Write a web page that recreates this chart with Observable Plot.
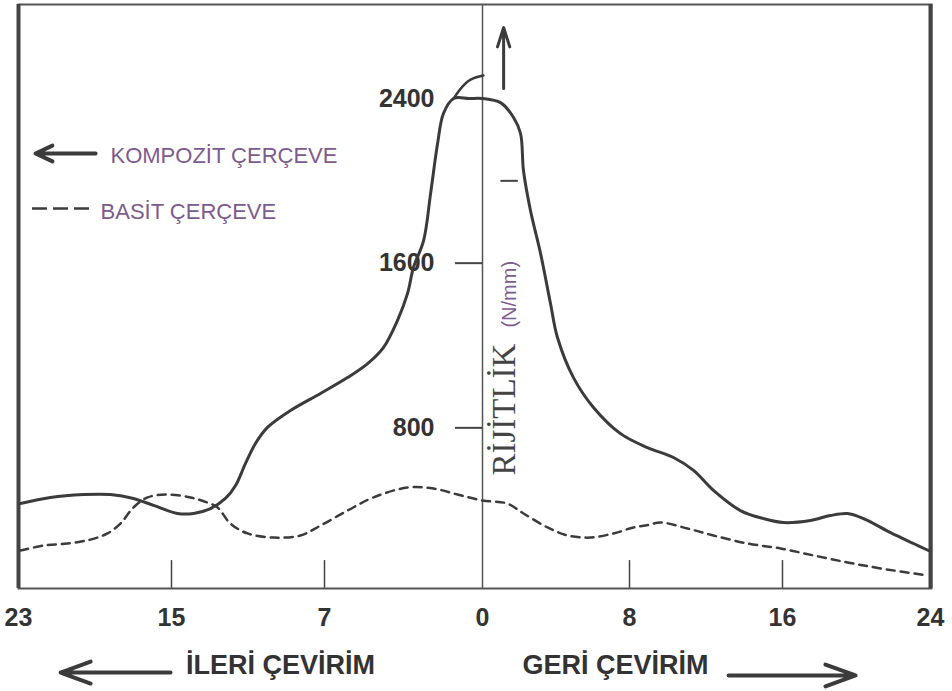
<!DOCTYPE html>
<html>
<head>
<meta charset="utf-8">
<script src="https://cdn.jsdelivr.net/npm/d3@7"></script>
<script src="https://cdn.jsdelivr.net/npm/@observablehq/plot@0.6"></script>
<style>
  html, body { margin: 0; padding: 0; background: #fff; overflow: hidden; }
  #chart { width: 952px; height: 691px; }
</style>
</head>
<body>
<div id="chart"></div>
<script>
// ---- data ----
const xTicks = [-23, -15, -7, 0, 8, 16, 24];
const xTickLabels = ["23", "15", "7", "0", "8", "16", "24"];
const xTickMarks = [-15, -7, 8, 16];
const yTicks = [2400, 1600, 800];
const yTickMarksLeft = [1600, 800];
const yTickMarksRight = [2000];

const kompozitX = [-22.9, -21.33, -19.6, -18.19, -16.99, -15.94, -14.69, -13.85, -12.96, -12.18, -11.65, -11.13, -10.61, -9.98, -8.78, -7.21, -5.98, -5.09, -4.39, -3.77, -3.32, -3.06, -2.61, -2.30, -1.99, -1.73, -1.28, -0.6, 0, 0.98, 1.69, 2.07, 2.23, 2.61, 3.16, 3.70, 4.08, 4.95, 6.04, 7.51, 8.94, 10.30, 11.35, 12.39, 13.80, 15.01, 16.05, 17.51, 18.59, 19.51, 20.38, 21.84, 23.08, 23.89];
const kompozitY = [432, 462, 476, 476, 457, 423, 384, 384, 408, 457, 520, 627, 724, 802, 884, 967, 1044, 1112, 1190, 1321, 1453, 1579, 1710, 1938, 2181, 2327, 2400, 2400, 2400, 2380, 2308, 2230, 2050, 1856, 1647, 1404, 1239, 1044, 899, 772, 704, 656, 593, 496, 398, 359, 340, 350, 374, 384, 359, 291, 238, 204];

const kompozitTepeX = [-1.28, -0.89, -0.53, 0.05];
const kompozitTepeY = [2400, 2458, 2492, 2512];

const basitX = [-22.9, -21.69, -20.44, -19.24, -18.35, -17.67, -16.99, -16.25, -15.21, -14.01, -13.12, -12.59, -11.92, -11.03, -9.67, -8.26, -7.21, -5.98, -4.83, -3.32, -2.17, -1.11, 0, 1.36, 2.23, 3.54, 4.63, 5.88, 7.13, 8.21, 8.84, 9.62, 11.03, 12.39, 14.17, 15.90, 17.68, 19.51, 21.30, 23.84];
const basitY = [204, 228, 238, 257, 287, 335, 413, 462, 476, 462, 437, 413, 335, 287, 267, 277, 325, 398, 462, 510, 505, 476, 447, 432, 384, 316, 277, 267, 287, 316, 325, 340, 311, 277, 238, 214, 180, 146, 117, 83];

const seriesNames = ["KOMPOZİT ÇERÇEVE", "BASİT ÇERÇEVE"];
const axisTitles = ["İLERİ ÇEVİRİM", "GERİ ÇEVİRİM"];
const yTitle = "RİJİTLİK";
const yUnit = "(N/mm)";

// ---- tables ----
const kompozit = kompozitX.map((x, i) => ({x, y: kompozitY[i]}));
const kompozitTepe = kompozitTepeX.map((x, i) => ({x, y: kompozitTepeY[i]}));
const basit = basitX.map((x, i) => ({x, y: basitY[i]}));

const ink = "#3b3b3b";
const purple = "#7d5a91";

// hand-drawn axis: unequal spacing between ticks on either side of 0
const warp = d3.scaleLinear().domain(xTicks).range([18, 171, 324, 482, 629, 782, 930]);

const chart = Plot.plot({
  width: 952,
  height: 691,
  marginTop: 4,
  marginRight: 21,
  marginBottom: 103,
  marginLeft: 18,
  style: {background: "#fff", fontFamily: "Liberation Sans, Arial, sans-serif", overflow: "visible"},
  x: {transform: warp, domain: [18, 930], range: [18, 930], axis: null},
  y: {domain: [0, 2400], range: [592, 98], axis: null},
  marks: [
    Plot.frame({stroke: "#555", strokeWidth: 2}),
    Plot.ruleX([xTicks[0], xTicks[xTicks.length - 1]], {stroke: "#444", strokeWidth: 4}),
    Plot.ruleX([0], {stroke: "#555", strokeWidth: 1.5}),
    Plot.ruleX(xTickMarks, {y1: 20, y2: 155, stroke: "#444", strokeWidth: 1.5}),
    Plot.ruleY(yTickMarksLeft, {x1: -1.2, x2: 0, stroke: "#444", strokeWidth: 2}),
    Plot.ruleY(yTickMarksRight, {x1: 1.0, x2: 1.95, stroke: "#444", strokeWidth: 2}),
    Plot.text(yTicks, {x: 0, y: d => d, dx: -48, text: d => String(d), textAnchor: "end",
      fontSize: 25, fontWeight: "bold", fill: "#333"}),
    Plot.text(xTicks, {x: d => d, frameAnchor: "bottom", dy: 37, text: (d, i) => xTickLabels[i],
      fontSize: 25, fontWeight: "bold", fill: "#333"}),
    Plot.line(basit, {x: "x", y: "y", curve: "catmull-rom", stroke: ink, strokeWidth: 2.5, strokeDasharray: "8,6"}),
    Plot.line(kompozit, {x: "x", y: "y", curve: "catmull-rom", stroke: ink, strokeWidth: 3}),
    Plot.line(kompozitTepe, {x: "x", y: "y", curve: "catmull-rom", stroke: ink, strokeWidth: 2.5}),
    // vertical arrow near the peak
    Plot.arrow([0], {x1: 1.15, x2: 1.15, y1: 2448, y2: 2745, stroke: ink, strokeWidth: 3, headLength: 16, headAngle: 35}),
    // legend
    Plot.arrow([0], {x1: -18.97, x2: -22.11, y1: 2133, y2: 2133, stroke: ink, strokeWidth: 4, headLength: 7, headAngle: 50}),
    Plot.ruleY([1865], {x1: -22.27, x2: -19.13, stroke: ink, strokeWidth: 2.5, strokeDasharray: "15,6"}),
    Plot.text([seriesNames[0]], {x: -18.19, y: 2123, text: d => d, textAnchor: "start", fontSize: 22, fill: purple}),
    Plot.text([seriesNames[1]], {x: -18.71, y: 1851, text: d => d, textAnchor: "start", fontSize: 22, fill: purple}),
    // y title
    Plot.text([yTitle], {x: 1.2, y: 568, text: d => d, rotate: -90, textAnchor: "start",
      fontFamily: "Liberation Serif, Times New Roman, serif", fontSize: 33, fill: "#444"}),
    Plot.text([yUnit], {x: 1.45, y: 1287, text: d => d, rotate: -90, textAnchor: "start",
      fontSize: 20, fill: purple}),
    // axis titles and direction arrows
    Plot.text([axisTitles[0]], {x: -9.3, frameAnchor: "bottom", dy: 85, text: d => d,
      fontSize: 27, fontWeight: "bold", fill: "#333"}),
    Plot.text([axisTitles[1]], {x: 7.24, frameAnchor: "bottom", dy: 85, text: d => d,
      fontSize: 27, fontWeight: "bold", fill: "#333"}),
    Plot.arrow([0], {x1: -15.05, x2: -20.8, y1: -389, y2: -389, stroke: ink, strokeWidth: 4, headLength: 12, headAngle: 40}),
    Plot.arrow([0], {x1: 13.18, x2: 19.95, y1: -403, y2: -403, stroke: ink, strokeWidth: 4, headLength: 12, headAngle: 40})
  ]
});
document.getElementById("chart").appendChild(chart);
</script>
</body>
</html>
